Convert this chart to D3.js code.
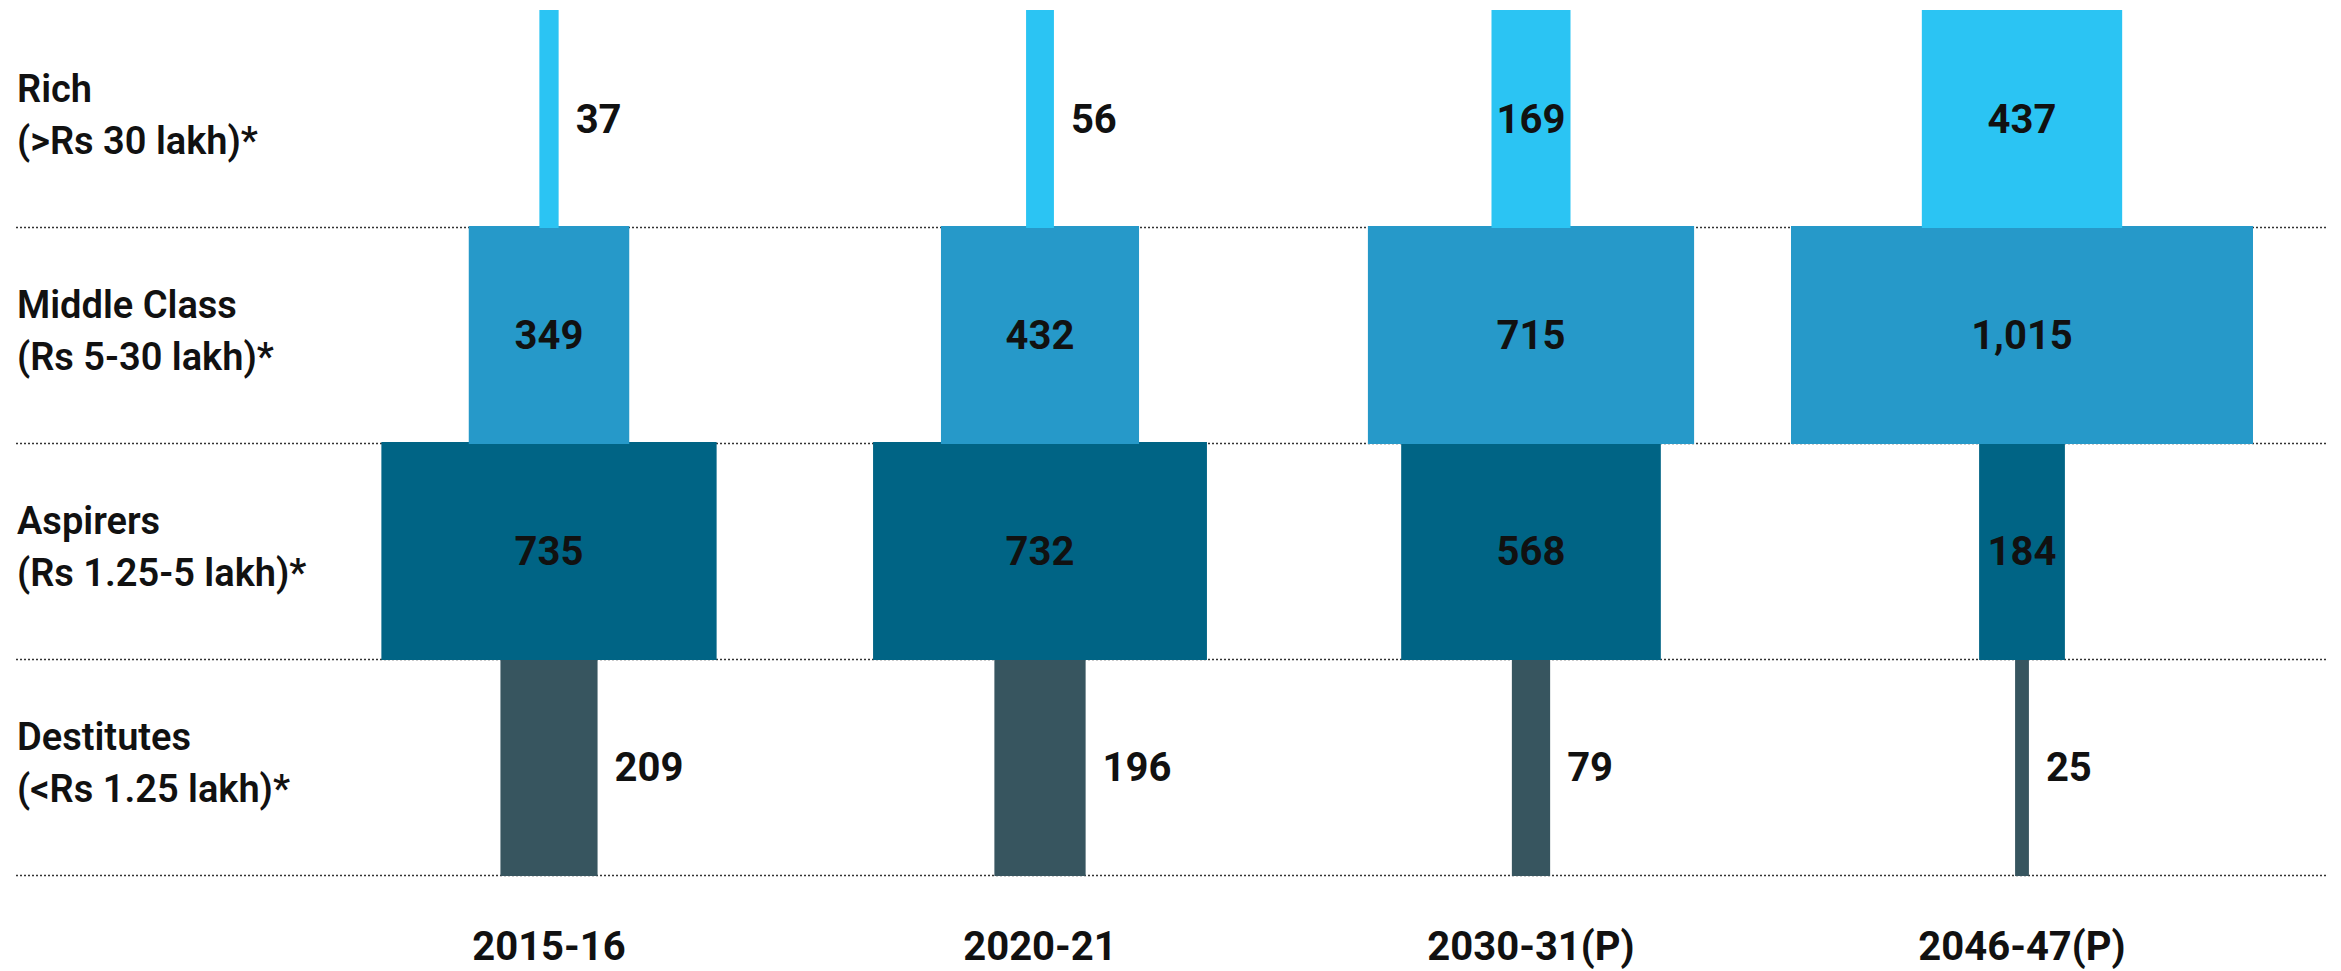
<!DOCTYPE html>
<html>
<head>
<meta charset="utf-8">
<script src="https://cdn.jsdelivr.net/npm/d3@7"></script>
<style>
  html, body { margin: 0; padding: 0; background: #fff; }
  svg { display: block; }
  text { font-family: Roboto, "Noto Sans", "Liberation Sans", sans-serif; fill: #111; }
</style>
</head>
<body>
<svg id="chart" width="2341" height="971"></svg>
<script>
// Income classes (rows, top to bottom) and their income brackets
const categories = ["Rich", "Middle Class", "Aspirers", "Destitutes"];
const incomeRanges = ["(>Rs 30 lakh)*", "(Rs 5-30 lakh)*", "(Rs 1.25-5 lakh)*", "(<Rs 1.25 lakh)*"];

// Periods (columns)
const years = ["2015-16", "2020-21", "2030-31(P)", "2046-47(P)"];

// Number of households (million) per class and period
const rich        = [37, 56, 169, 437];
const middleClass = [349, 432, 715, 1015];
const aspirers    = [735, 732, 568, 184];
const destitutes  = [209, 196, 79, 25];

const classColors = ["#2bc4f3", "#2699c9", "#006485", "#37555f"];

const seriesValues = [rich, middleClass, aspirers, destitutes];

const svg = d3.select("#chart");

const x = d3.scalePoint().domain(years).range([549, 2022]);
const y = d3.scaleBand().domain(categories).range([10, 874]);
const widthScale = d3.scaleLinear()
  .domain([0, d3.max(seriesValues.flat())])
  .range([2.5, 462]);
const fmt = d3.format(",");

// Dotted separators under each row
svg.append("g")
  .selectAll("line")
  .data(categories)
  .join("line")
  .attr("x1", 16)
  .attr("x2", 2328)
  .attr("y1", d => y(d) + y.bandwidth() + 1.5)
  .attr("y2", d => y(d) + y.bandwidth() + 1.5)
  .attr("stroke", "#333")
  .attr("stroke-width", 1.6)
  .attr("stroke-dasharray", "2,2");

// Row data: one entry per class, drawn bottom row first so upper rows overlap
const rows = categories.map((c, i) => ({
  category: c,
  color: classColors[i],
  labelOutside: i === 3,
  values: seriesValues[i].map((v, j) => ({ year: years[j], value: v }))
}));

const rowGroups = svg.append("g")
  .selectAll("g")
  .data(rows.slice().reverse())
  .join("g");

rowGroups.selectAll("rect")
  .data(r => r.values.map(v => ({ ...v, row: r })))
  .join("rect")
  .attr("x", d => x(d.year) - widthScale(d.value) / 2)
  .attr("y", d => y(d.row.category))
  .attr("width", d => widthScale(d.value))
  .attr("height", y.bandwidth() + 2)
  .attr("fill", d => d.row.color);

// Value labels: centred inside wide bars, beside narrow ones
const labels = svg.append("g");
rows.forEach(r => {
  r.values.forEach(v => {
    const t = labels.append("text")
      .attr("font-size", 40)
      .attr("font-weight", 700)
      .attr("y", y(r.category) + y.bandwidth() / 2)
      .attr("dy", "0.38em")
      .text(fmt(v.value));
    const tw = t.node().getComputedTextLength();
    const bw = widthScale(v.value);
    if (r.labelOutside || tw + 6 > bw) {
      t.attr("x", x(v.year) + bw / 2 + 17).attr("text-anchor", "start");
    } else {
      t.attr("x", x(v.year)).attr("text-anchor", "middle");
    }
  });
});

// Row labels on the left
const rowLabels = svg.append("g")
  .selectAll("text")
  .data(categories)
  .join("text")
  .attr("x", 17)
  .attr("y", d => y(d) + y.bandwidth() / 2 - 16)
  .attr("font-size", 38)
  .attr("font-weight", 600);
rowLabels.append("tspan").attr("x", 17).text(d => d);
rowLabels.append("tspan").attr("x", 17).attr("dy", 52)
  .text((d, i) => incomeRanges[i]);

// Period labels along the bottom
svg.append("g")
  .selectAll("text")
  .data(years)
  .join("text")
  .attr("x", d => x(d))
  .attr("y", 960)
  .attr("text-anchor", "middle")
  .attr("font-size", 40)
  .attr("font-weight", 700)
  .text(d => d);
</script>
</body>
</html>
